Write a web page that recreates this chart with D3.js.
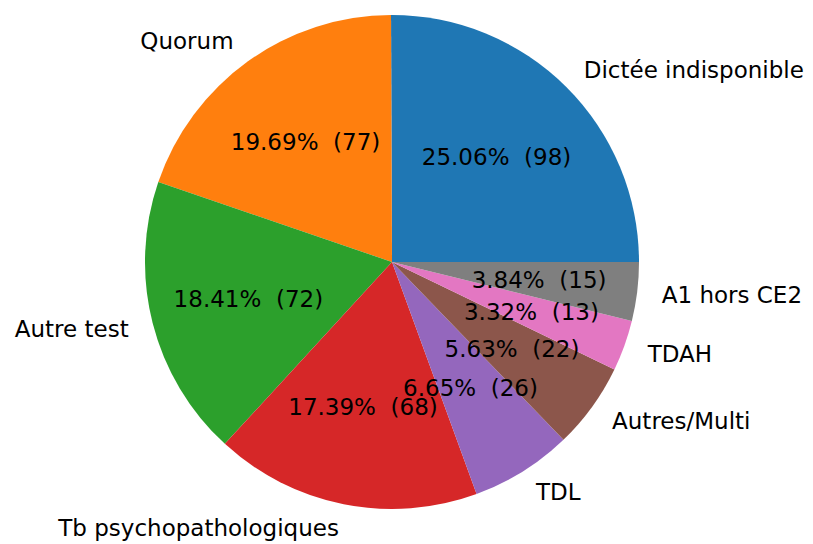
<!DOCTYPE html>
<html>
<head>
<meta charset="utf-8">
<script src="https://cdn.jsdelivr.net/npm/d3@7"></script>
<style>
  body { margin: 0; background: #fff; }
  text { font-family: "DejaVu Sans", sans-serif; white-space: pre; }
</style>
</head>
<body>
<div class="canva"></div>
<script>
const categories = ["Dictée indisponible", "Quorum", "Autre test", "Tb psychopathologiques",
  "TDL", "Autres/Multi", "TDAH", "A1 hors CE2"];
const counts = [98, 77, 72, 68, 26, 22, 13, 15];
const colors = ["#1f77b4", "#ff7f0e", "#2ca02c", "#d62728", "#9467bd", "#8c564b", "#e377c2", "#7f7f7f"];

const width = 813, height = 544;
const cx = 392, cy = 262, r = 247;
const total = d3.sum(counts);

const svg = d3.select(".canva").append("svg")
  .attr("width", width)
  .attr("height", height);

// matplotlib style: start at 3 o'clock, go counterclockwise
const pie = d3.pie()
  .sort(null)
  .startAngle(Math.PI / 2)
  .endAngle(Math.PI / 2 - 2 * Math.PI)
  .value(d => d);

const arcs = pie(counts);
const arc = d3.arc().innerRadius(0).outerRadius(r);

const g = svg.append("g").attr("transform", `translate(${cx},${cy})`);

g.selectAll("path")
  .data(arcs)
  .join("path")
  .attr("d", arc)
  .attr("fill", (d, i) => colors[i]);

const mid = d => (d.startAngle + d.endAngle) / 2;

// category labels at 1.1 r
g.selectAll("text.label")
  .data(arcs)
  .join("text")
  .attr("class", "label")
  .attr("x", d => 1.1 * r * Math.sin(mid(d)))
  .attr("y", d => -1.1 * r * Math.cos(mid(d)))
  .attr("text-anchor", d => Math.sin(mid(d)) > 0 ? "start" : "end")
  .attr("dominant-baseline", "central")
  .attr("font-size", 23)
  .attr("fill", "#000")
  .text((d, i) => categories[i]);

// percentage labels at 0.6 r
g.selectAll("text.pct")
  .data(arcs)
  .join("text")
  .attr("class", "pct")
  .attr("x", d => 0.6 * r * Math.sin(mid(d)))
  .attr("y", d => -0.6 * r * Math.cos(mid(d)))
  .attr("text-anchor", "middle")
  .attr("dominant-baseline", "central")
  .attr("font-size", 23)
  .attr("fill", "#000")
  .text(d => (d.value / total * 100).toFixed(2) + "%  (" + d.value + ")");
</script>
</body>
</html>
